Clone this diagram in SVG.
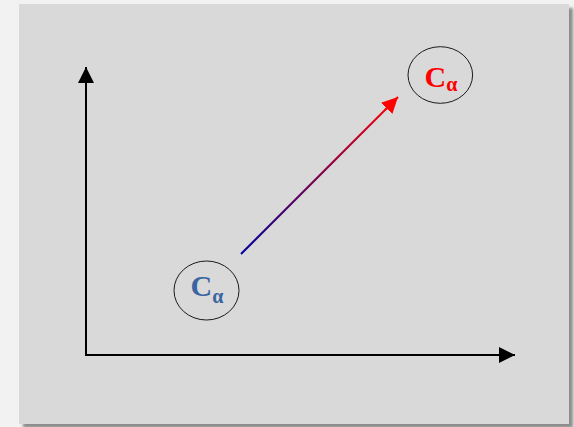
<svg xmlns="http://www.w3.org/2000/svg" width="574" height="427" viewBox="0 0 574 427">
  <defs>
    <filter id="sh" x="-5%" y="-5%" width="115%" height="115%">
      <feGaussianBlur stdDeviation="1.5"/>
    </filter>
    <linearGradient id="grad" gradientUnits="userSpaceOnUse" x1="241" y1="254" x2="398" y2="97">
      <stop offset="0" stop-color="#000099"/>
      <stop offset="1" stop-color="#ff0000"/>
    </linearGradient>
    <marker id="blk" viewBox="0 0 16 16" refX="16" refY="8" markerWidth="16" markerHeight="16" markerUnits="userSpaceOnUse" orient="auto">
      <path d="M0,0 L16,8 L0,16 Z" fill="#000"/>
    </marker>
    <marker id="red" viewBox="0 0 16 16" refX="16" refY="8" markerWidth="16" markerHeight="16" markerUnits="userSpaceOnUse" orient="auto">
      <path d="M0,0 L16,8 L0,16 Z" fill="#ff0000"/>
    </marker>
  </defs>
  <style>
    .node ellipse { fill: none; stroke: #1a1a1a; stroke-width: 1; }
    .lbl { font-family: "Liberation Serif", "DejaVu Serif", serif; font-weight: bold; }
    .big { font-size: 30px; }
    .sub { font-size: 20px; }
  </style>
  <rect x="0" y="0" width="574" height="427" fill="#f2f2f2"/>
  <rect x="23" y="8" width="550" height="420" fill="#8c8c8c" filter="url(#sh)"/>
  <rect x="19" y="4" width="550" height="420" fill="#d9d9d9"/>

  <g id="connectors">
    <polyline points="86,83 86,355 499,355" fill="none" stroke="#000" stroke-width="2"/>
    <line x1="86" y1="84" x2="86" y2="67" stroke="#000" stroke-width="2" marker-end="url(#blk)"/>
    <line x1="498" y1="355" x2="515" y2="355" stroke="#000" stroke-width="2" marker-end="url(#blk)"/>
    <line x1="241" y1="254" x2="387" y2="108" stroke="url(#grad)" stroke-width="2"/>
    <line x1="385" y1="110" x2="398" y2="97" stroke="#ff0000" stroke-width="2" marker-end="url(#red)"/>
  </g>

  <g id="node-start" class="node">
    <ellipse cx="206.5" cy="290.5" rx="32.5" ry="29.5"/>
    <text class="lbl" fill="#3a65a0" x="190.5" y="296"><tspan class="big">C</tspan><tspan class="sub" dy="7">α</tspan></text>
  </g>

  <g id="node-end" class="node">
    <ellipse cx="440.3" cy="75" rx="32.3" ry="28.3"/>
    <text class="lbl" fill="#ff0000" x="424.5" y="87"><tspan class="big">C</tspan><tspan class="sub" dy="3.5">α</tspan></text>
  </g>
</svg>
